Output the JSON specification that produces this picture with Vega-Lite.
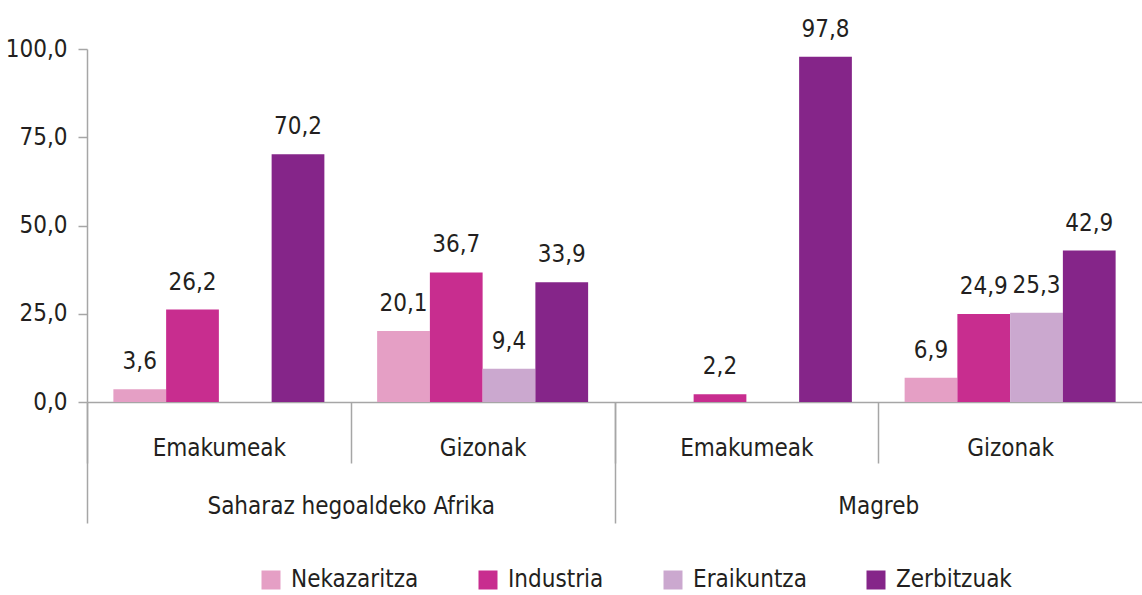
{
  "$schema": "https://vega.github.io/schema/vega-lite/v6.json",
  "width": 1055,
  "height": 353,
  "autosize": {"type": "none"},
  "padding": {"left": 87, "top": 49, "right": 0, "bottom": 193},
  "config": {
    "locale": {"number": {"decimal": ",", "thousands": ".", "grouping": [3], "currency": ["", " €"]}},
    "font": "DejaVu Sans Condensed, sans-serif",
    "view": {"stroke": null},
    "axis": {
      "labelFont": "DejaVu Sans Condensed, sans-serif",
      "labelFontSize": 24,
      "labelColor": "#231f20",
      "domainColor": "#a6a6a6",
      "tickColor": "#a6a6a6",
      "domainWidth": 1.5,
      "tickWidth": 1.5,
      "grid": false,
      "title": null,
      "labelOverlap": false,
      "labelLimit": 600
    },
    "legend": {
      "labelFont": "DejaVu Sans Condensed, sans-serif",
      "labelLimit": 400
    }
  },
  "data": {
    "values": [
      {"region": "Saharaz hegoaldeko Afrika", "gender": "Emakumeak", "group": "Saharaz hegoaldeko Afrika|Emakumeak", "sector": "Nekazaritza", "value": 3.6},
      {"region": "Saharaz hegoaldeko Afrika", "gender": "Emakumeak", "group": "Saharaz hegoaldeko Afrika|Emakumeak", "sector": "Industria", "value": 26.2},
      {"region": "Saharaz hegoaldeko Afrika", "gender": "Emakumeak", "group": "Saharaz hegoaldeko Afrika|Emakumeak", "sector": "Zerbitzuak", "value": 70.2},
      {"region": "Saharaz hegoaldeko Afrika", "gender": "Gizonak", "group": "Saharaz hegoaldeko Afrika|Gizonak", "sector": "Nekazaritza", "value": 20.1},
      {"region": "Saharaz hegoaldeko Afrika", "gender": "Gizonak", "group": "Saharaz hegoaldeko Afrika|Gizonak", "sector": "Industria", "value": 36.7},
      {"region": "Saharaz hegoaldeko Afrika", "gender": "Gizonak", "group": "Saharaz hegoaldeko Afrika|Gizonak", "sector": "Eraikuntza", "value": 9.4},
      {"region": "Saharaz hegoaldeko Afrika", "gender": "Gizonak", "group": "Saharaz hegoaldeko Afrika|Gizonak", "sector": "Zerbitzuak", "value": 33.9},
      {"region": "Magreb", "gender": "Emakumeak", "group": "Magreb|Emakumeak", "sector": "Industria", "value": 2.2},
      {"region": "Magreb", "gender": "Emakumeak", "group": "Magreb|Emakumeak", "sector": "Zerbitzuak", "value": 97.8},
      {"region": "Magreb", "gender": "Gizonak", "group": "Magreb|Gizonak", "sector": "Nekazaritza", "value": 6.9},
      {"region": "Magreb", "gender": "Gizonak", "group": "Magreb|Gizonak", "sector": "Industria", "value": 24.9},
      {"region": "Magreb", "gender": "Gizonak", "group": "Magreb|Gizonak", "sector": "Eraikuntza", "value": 25.3},
      {"region": "Magreb", "gender": "Gizonak", "group": "Magreb|Gizonak", "sector": "Zerbitzuak", "value": 42.9}
    ]
  },
  "layer": [
    {
      "encoding": {
        "x": {
          "field": "group",
          "type": "nominal",
          "sort": ["Saharaz hegoaldeko Afrika|Emakumeak", "Saharaz hegoaldeko Afrika|Gizonak", "Magreb|Emakumeak", "Magreb|Gizonak"],
          "scale": {"paddingInner": 0, "paddingOuter": 0},
          "axis": {
            "orient": "bottom",
            "title": null,
            "labelExpr": "split(datum.label, '|')[1]",
            "labelAngle": 0,
            "tickOffset": -131.875,
            "labelOffset": 131.875,
            "tickSize": 61,
            "labelPadding": -8,
            "labelBaseline": "alphabetic"
          }
        },
        "xOffset": {
          "field": "sector",
          "type": "nominal",
          "sort": ["Nekazaritza", "Industria", "Eraikuntza", "Zerbitzuak"],
          "scale": {"paddingInner": 0, "paddingOuter": 0.5}
        },
        "y": {
          "field": "value",
          "type": "quantitative",
          "scale": {"domain": [0, 100]},
          "axis": {"values": [0, 25, 50, 75, 100], "format": ".1f", "tickSize": 9, "labelPadding": 11, "title": null}
        }
      },
      "layer": [
        {
          "mark": {"type": "bar"},
          "encoding": {
            "color": {
              "field": "sector",
              "type": "nominal",
              "scale": {
                "domain": ["Nekazaritza", "Industria", "Eraikuntza", "Zerbitzuak"],
                "range": ["#e59fc5", "#c82d8f", "#cba8cf", "#852589"]
              },
              "legend": {
                "orient": "none",
                "legendX": 172,
                "legendY": 519,
                "direction": "horizontal",
                "title": null,
                "symbolType": "square",
                "symbolSize": 361,
                "symbolStrokeWidth": 0,
                "labelFontSize": 24,
                "labelColor": "#231f20",
                "labelOffset": 8,
                "columnPadding": 57
              }
            }
          }
        },
        {
          "mark": {"type": "text", "dy": -20, "fontSize": 24, "color": "#231f20", "baseline": "alphabetic"},
          "encoding": {"text": {"field": "value", "type": "quantitative", "format": ".1f"}}
        }
      ]
    },
    {
      "mark": {"type": "point", "opacity": 0},
      "encoding": {
        "x": {
          "field": "region",
          "type": "nominal",
          "sort": ["Saharaz hegoaldeko Afrika", "Magreb"],
          "scale": {"paddingInner": 0, "paddingOuter": 0},
          "axis": {
            "orient": "bottom",
            "title": null,
            "labelAngle": 0,
            "tickOffset": -263.75,
            "labelOffset": 263.75,
            "tickSize": 121,
            "labelPadding": -10,
            "labelBaseline": "alphabetic",
            "domain": false
          }
        }
      }
    }
  ],
  "resolve": {"scale": {"x": "independent"}}
}
